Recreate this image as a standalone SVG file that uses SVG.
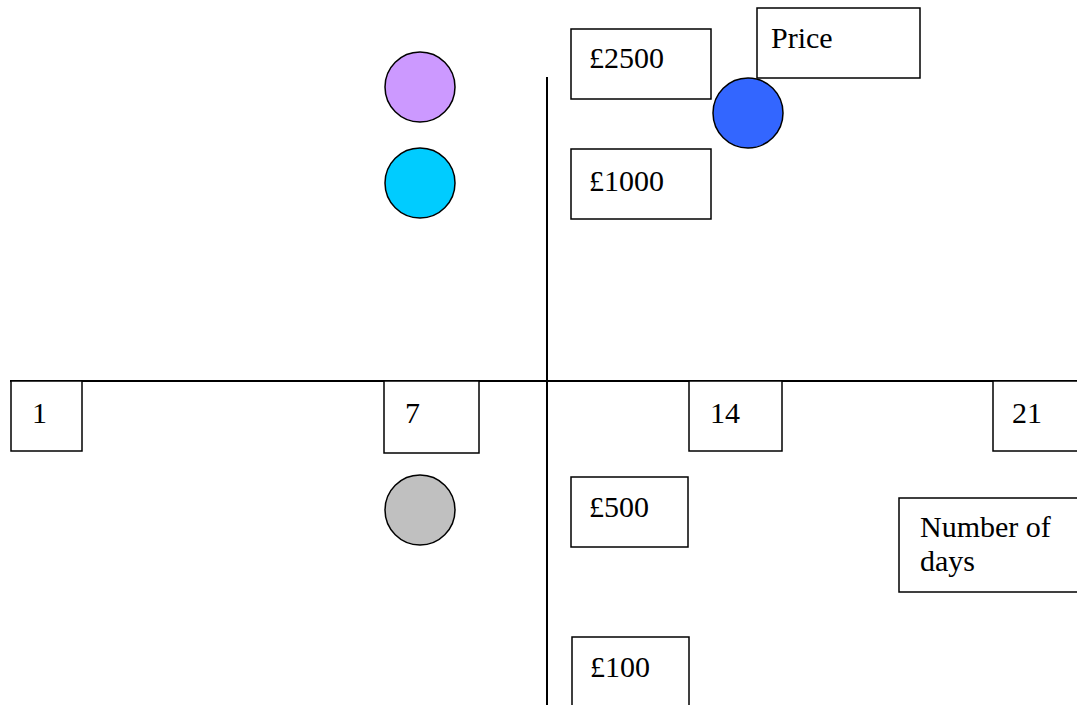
<svg xmlns="http://www.w3.org/2000/svg" width="1077" height="705" viewBox="0 0 1077 705">
<style>
.box{fill:#fff;stroke:#000;stroke-width:1.5}
.dot{stroke:#000;stroke-width:1.5}
.ax{stroke:#000;stroke-width:2;fill:none}
text{font-family:"Liberation Serif","Times New Roman",serif;font-size:30px;fill:#000}
</style>
<rect width="1077" height="705" fill="#fff"/>
<g id="connectors">
<line class="ax" x1="10" y1="381" x2="1077" y2="381"/>
<line class="ax" x1="547" y1="77" x2="547" y2="705"/>
</g>
<g id="n1"><rect class="box" x="11" y="381" width="71" height="70"/><text x="32" y="423">1</text></g>
<g id="n7"><rect class="box" x="384" y="381" width="95" height="72"/><text x="405" y="423">7</text></g>
<g id="n14"><rect class="box" x="689" y="381" width="93" height="70"/><text x="710" y="423">14</text></g>
<g id="n21"><rect class="box" x="993" y="381" width="90" height="70"/><text x="1012" y="423">21</text></g>
<g id="p2500"><rect class="box" x="571" y="29" width="140" height="70"/><text x="589" y="68">£2500</text></g>
<g id="price"><rect class="box" x="757" y="8" width="163" height="70"/><text x="771" y="48">Price</text></g>
<g id="p1000"><rect class="box" x="571" y="149" width="140" height="70"/><text x="589" y="191">£1000</text></g>
<g id="p500"><rect class="box" x="571" y="477" width="117" height="70"/><text x="589" y="517">£500</text></g>
<g id="p100"><rect class="box" x="572" y="637" width="117" height="75"/><text x="590" y="677">£100</text></g>
<g id="days"><rect class="box" x="899" y="498" width="185" height="94"/><text x="920" y="537">Number of</text><text x="920" y="571">days</text></g>
<g id="c-purple"><circle class="dot" cx="420" cy="87" r="35" fill="#cc99ff"/></g>
<g id="c-cyan"><circle class="dot" cx="420" cy="183" r="35" fill="#00ccff"/></g>
<g id="c-blue"><circle class="dot" cx="748" cy="113" r="35" fill="#3366ff"/></g>
<g id="c-gray"><circle class="dot" cx="420" cy="510" r="35" fill="#c0c0c0"/></g>
</svg>
